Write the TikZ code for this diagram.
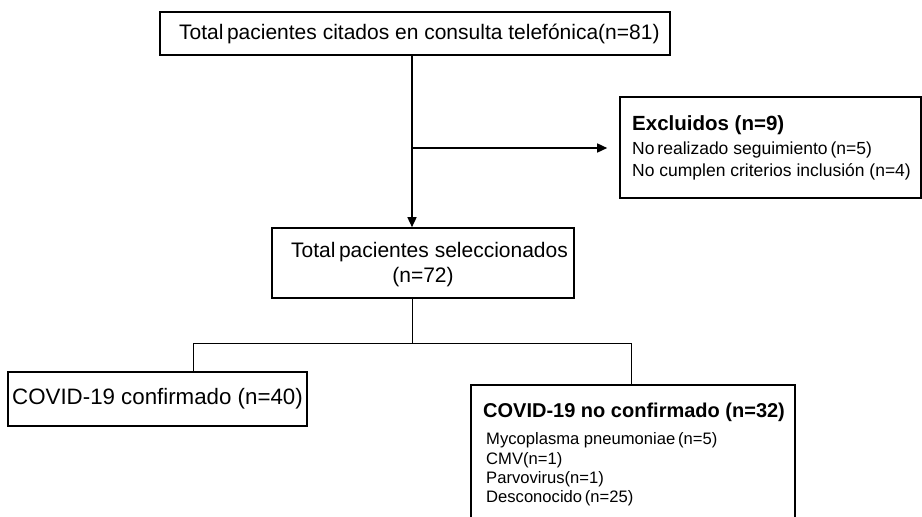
\documentclass[tikz,border=0pt]{standalone}
\usepackage{fontspec}
\setmainfont{Liberation Sans}
\usetikzlibrary{arrows.meta}
\begin{document}
\begin{tikzpicture}[x=1pt,y=-1pt,
  box/.style={draw, line width=1.6pt, rectangle, inner sep=0pt, fill=white},
  arr/.style={line width=1.5pt, -{Triangle[length=10pt,width=9pt]}},
  thin/.style={line width=0.9pt},
  big/.style={font=\fontsize{21}{25}\selectfont, inner sep=0pt},
  cnf/.style={font=\fontsize{22.3}{26}\selectfont, inner sep=0pt},
  mid/.style={font=\fontsize{17.5}{21}\selectfont, inner sep=0pt},
  sml/.style={font=\fontsize{16.6}{19}\selectfont, inner sep=0pt},
  bex/.style={font=\fontsize{20.5}{24}\selectfont\bfseries, inner sep=0pt},
  bnc/.style={font=\fontsize{20}{24}\selectfont\bfseries, inner sep=0pt}]
\fill[white] (0,0) rectangle (922,517);
\useasboundingbox (0,0) rectangle (922,517);
\clip (0,0) rectangle (922,517);

% boxes
\node[box, minimum width=510pt, minimum height=43pt] (top) at (415,33.5) {};
\node[box, minimum width=301pt, minimum height=101pt] (excl) at (770.5,147.5) {};
\node[box, minimum width=302pt, minimum height=70pt] (sel) at (423,263) {};
\node[box, minimum width=299pt, minimum height=54pt] (conf) at (157.5,399) {};
\node[box, minimum width=324pt, minimum height=150pt] (noconf) at (633,460) {};

% texts
\node[big, anchor=west] (ttop) at (179,34) {Total\,pacientes citados en consulta telefónica(n=81)};
\node[bex, anchor=west] (texcl) at (632,125) {Excluidos (n=9)};
\node[mid, anchor=west] (te1) at (632,150) {No\,realizado seguimiento\,(n=5)};
\node[mid, anchor=west] (te2) at (632,172) {No cumplen criterios inclusión (n=4)};
\node[big, anchor=west] (tsel1) at (291,252) {Total\,pacientes seleccionados};
\node[big] (tsel2) at (423,277) {(n=72)};
\node[cnf, anchor=west] (tconf) at (12,399) {COVID-19 confirmado (n=40)};
\node[bnc, anchor=west] (tnc) at (483,412) {COVID-19 no confirmado (n=32)};
\node[sml, anchor=west] (tn1) at (486,440) {Mycoplasma pneumoniae\,(n=5)};
\node[sml, anchor=west] (tn2) at (486,460) {CMV(n=1)};
\node[sml, anchor=west] (tn3) at (486,479) {Parvovirus(n=1)};
\node[sml, anchor=west] (tn4) at (486,498) {Desconocido\,(n=25)};

% connectors
\coordinate (j) at (412,148);
\coordinate (b) at (412,343);
\coordinate (bl) at (193,343);
\coordinate (br) at (631,343);
\draw[arr] (top.south -| j) -- (sel.north -| j);
\draw[arr, shorten >=12pt] (j) -- (excl.west |- j);
\draw[thin] (sel.south -| b) -- (b);
\draw[thin] (bl) -- (br);
\draw[thin] (bl) -- (conf.north -| bl);
\draw[thin] (br) -- (noconf.north -| br);
\end{tikzpicture}
\end{document}
